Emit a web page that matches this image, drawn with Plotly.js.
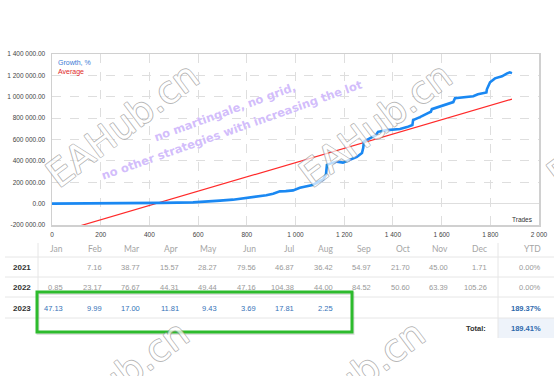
<!DOCTYPE html>
<html><head><meta charset="utf-8">
<script src="https://cdn.plot.ly/plotly-3.0.1.min.js"></script>
<style>html,body{margin:0;padding:0;background:#fff;}#chart{width:554px;height:376px;}</style>
</head><body><div id="chart"></div>
<script>
// ---- data ----
const trades = [0, 100, 200, 330, 340, 450, 579, 640, 690, 743, 800, 854, 880, 908, 936, 960, 990, 1018, 1047, 1070, 1088, 1113, 1125, 1129, 1140, 1154, 1170, 1195, 1210, 1224, 1252, 1273, 1278, 1281, 1298, 1318, 1330, 1339, 1376, 1400, 1429, 1458, 1470, 1480, 1483, 1503, 1511, 1544, 1556, 1560, 1580, 1606, 1634, 1648, 1655, 1680, 1704, 1730, 1749, 1765, 1778, 1784, 1786, 1799, 1819, 1848, 1869, 1880, 1889];
const growth = [0, 0, 1000, 2000, 6000, 7000, 12000, 18000, 28000, 37000, 53000, 74000, 78000, 93000, 115000, 117000, 124000, 149000, 161000, 175000, 195000, 223000, 270000, 363000, 372000, 381000, 393000, 384000, 398000, 409000, 437000, 474000, 520000, 580000, 605000, 626000, 640000, 672000, 688000, 693000, 698000, 716000, 726000, 735000, 781000, 800000, 809000, 847000, 860000, 884000, 900000, 921000, 940000, 950000, 986000, 990000, 995000, 1005000, 1023000, 1028000, 1033000, 1040000, 1070000, 1135000, 1172000, 1191000, 1219000, 1228000, 1221000];
const avgTrades = [0, 1889];
const avgValues = [-285000, 978000];

const xTickVals = [0, 200, 400, 600, 800, 1000, 1200, 1400, 1600, 1800, 2000];
const xTickText = ["0", "200", "400", "600", "800", "1 000", "1 200", "1 400", "1 600", "1 800", "2 000"];
const yTickVals = [-200000, 0, 200000, 400000, 600000, 800000, 1000000, 1200000, 1400000];
const yTickText = ["-200 000.00", "0.00", "200 000.00", "400 000.00", "600 000.00", "800 000.00", "1 000 000.00", "1 200 000.00", "1 400 000.00"];

const months = ["Jan","Feb","Mar","Apr","May","Jun","Jul","Aug","Sep","Oct","Nov","Dec"];
const years = ["2021","2022","2023"];
const row2021 = ["", "7.16", "38.77", "15.57", "28.27", "79.56", "46.87", "36.42", "54.97", "21.70", "45.00", "1.71"];
const row2022 = ["0.85", "23.17", "76.67", "44.31", "49.44", "47.16", "104.38", "44.00", "84.52", "50.60", "63.39", "105.26"];
const row2023 = ["47.13", "9.99", "17.00", "11.81", "9.43", "3.69", "17.81", "2.25", "", "", "", ""];
const ytd = ["0.00%", "0.00%", "189.37%"];
const totalLabel = "Total:";
const totalValue = "189.41%";

// ---- layout helpers (pixel -> paper) ----
const L = 52, R = 539, T = 54, B = 225;
const px = x => (x - L) / (R - L);
const py = y => (B - y) / (B - T);

const ann = [];
const shapes = [];
const F = "Liberation Sans, Arial, sans-serif";

// legend texts
ann.push({xref:'paper',yref:'paper',x:px(56),y:py(62),xanchor:'left',yanchor:'middle',showarrow:false,text:'Growth, %',font:{family:F,size:7,color:'#3a7bd5'}});
ann.push({xref:'paper',yref:'paper',x:px(56),y:py(72),xanchor:'left',yanchor:'middle',showarrow:false,text:'Average',font:{family:F,size:7,color:'#e02828'}});
ann.push({xref:'paper',yref:'paper',x:px(535),y:py(219),xanchor:'right',yanchor:'middle',showarrow:false,text:'Trades',font:{family:F,size:6.5,color:'#333'}});

// table
const colRight = k => 65 + 38.5 * k;
const yHead = 249, rowY = [267, 287, 308], yTot = 328;
const valRows = [row2021, row2022, row2023];
const TF = "Liberation Sans, Arial, sans-serif";

// total cell background
shapes.push({type:'rect',xref:'paper',yref:'paper',x0:px(498),x1:px(554),y0:py(318),y1:py(338),fillcolor:'#eef3fa',line:{width:0},layer:'below'});
// horizontal lines
[257, 277, 297, 318].forEach(y => shapes.push({type:'line',xref:'paper',yref:'paper',x0:px(5),x1:px(554),y0:py(y),y1:py(y),line:{color:'#e6e6e6',width:1}}));
// vertical lines
shapes.push({type:'line',xref:'paper',yref:'paper',x0:px(38),x1:px(38),y0:py(243),y1:py(318),line:{color:'#e6e6e6',width:1}});
shapes.push({type:'line',xref:'paper',yref:'paper',x0:px(498),x1:px(498),y0:py(243),y1:py(338),line:{color:'#e6e6e6',width:1}});

months.forEach((m, k) => ann.push({xref:'paper',yref:'paper',x:px(colRight(k)),y:py(yHead),xanchor:'right',yanchor:'middle',showarrow:false,text:m,font:{family:"Lato, sans-serif",size:8.5,color:'#a5a5a5'}}));
ann.push({xref:'paper',yref:'paper',x:px(543),y:py(yHead),xanchor:'right',yanchor:'middle',showarrow:false,text:'YTD',font:{family:"Lato, sans-serif",size:8.5,color:'#a5a5a5'}});

years.forEach((yr, r) => {
  ann.push({xref:'paper',yref:'paper',x:px(22),y:py(rowY[r]),xanchor:'center',yanchor:'middle',showarrow:false,text:'<b>'+yr+'</b>',font:{family:TF,size:8,color:'#333'}});
  valRows[r].forEach((v, k) => {
    if (!v) return;
    ann.push({xref:'paper',yref:'paper',x:px(colRight(k)),y:py(rowY[r]),xanchor:'right',yanchor:'middle',showarrow:false,text:v,font:{family:TF,size:7.5,color: r === 2 ? '#3573b8' : '#999'}});
  });
  const bold = r === 2;
  ann.push({xref:'paper',yref:'paper',x:px(543),y:py(rowY[r]),xanchor:'right',yanchor:'middle',showarrow:false,text: bold ? '<b>'+ytd[r]+'</b>' : ytd[r],font:{family:TF,size:7.5,color: bold ? '#2f6aad' : '#999'}});
});
ann.push({xref:'paper',yref:'paper',x:px(488),y:py(yTot),xanchor:'right',yanchor:'middle',showarrow:false,text:'<b>'+totalLabel+'</b>',font:{family:TF,size:7.5,color:'#333'}});
ann.push({xref:'paper',yref:'paper',x:px(543),y:py(yTot),xanchor:'right',yanchor:'middle',showarrow:false,text:'<b>'+totalValue+'</b>',font:{family:TF,size:7.5,color:'#2f6aad'}});

// green highlight box
shapes.push({type:'rect',xref:'paper',yref:'paper',x0:px(38),x1:px(353),y0:py(293.5),y1:py(333.5),line:{color:'rgba(0,0,0,0.12)',width:3}});
shapes.push({type:'rect',xref:'paper',yref:'paper',x0:px(37),x1:px(352),y0:py(292),y1:py(332),line:{color:'#2dbb2d',width:3}});

// watermarks
const oc = '#9a9a9a', o = '0.7px';
const wmOutline = `-${o} -${o} 0 ${oc}, ${o} -${o} 0 ${oc}, -${o} ${o} 0 ${oc}, ${o} ${o} 0 ${oc}`;
[[122,125],[375,125],[623,125],[112,383],[348,383]].forEach(c => {
  ann.push({xref:'paper',yref:'paper',x:px(c[0]),y:py(c[1]),xanchor:'center',yanchor:'middle',showarrow:false,textangle:-37,opacity:0.7,text:'EAHub.cn',font:{family:'DejaVu Sans, sans-serif',size:37,color:'#ffffff',shadow:wmOutline}});
});
const pOutline = '0 0 1px #fff, 0 0 1px #fff';
ann.push({xref:'paper',yref:'paper',x:px(225),y:py(112),xanchor:'center',yanchor:'middle',showarrow:false,textangle:-20,text:'no martingale, no grid,',font:{family:'DejaVu Sans, sans-serif',size:11.5,weight:'bold',color:'rgba(190,160,250,0.7)',shadow:pOutline}});
ann.push({xref:'paper',yref:'paper',x:px(232),y:py(130),xanchor:'center',yanchor:'middle',showarrow:false,textangle:-19.5,text:'no other strategies with increasing the lot',font:{family:'DejaVu Sans, sans-serif',size:11.5,weight:'bold',color:'rgba(190,160,250,0.7)',shadow:pOutline}});

const data = [
  {x: avgTrades, y: avgValues, type:'scatter', mode:'lines', line:{color:'#ff2a2a', width:1.2}, hoverinfo:'skip', cliponaxis:true},
  {x: trades, y: growth, type:'scatter', mode:'lines', line:{color:'#1a88f2', width:2.6}, hoverinfo:'skip'}
];

const layout = {
  width:554, height:376,
  margin:{l:L, r:554-R, t:T, b:376-B, pad:0},
  paper_bgcolor:'#fff', plot_bgcolor:'#fff',
  showlegend:false,
  xaxis:{range:[0,2000], tickvals:xTickVals, ticktext:xTickText, showgrid:true, gridcolor:'#dedede', griddash:'dash', gridwidth:1, zeroline:false, showline:true, mirror:true, linecolor:'#d0d0d0', linewidth:1.5, ticks:'', tickfont:{family:F,size:6.5,color:'#444'}, ticklabelstandoff:3, fixedrange:true},
  yaxis:{range:[-200000,1400000], tickvals:yTickVals, ticktext:yTickText, showgrid:true, gridcolor:'#dedede', griddash:'dash', gridwidth:1, zeroline:true, zerolinecolor:'#dedede', zerolinewidth:1, showline:true, mirror:true, linecolor:'#d0d0d0', linewidth:1.5, ticks:'', tickfont:{family:F,size:6.5,color:'#444'}, ticklabelstandoff:4, fixedrange:true},
  annotations: ann,
  shapes: shapes
};
Plotly.newPlot('chart', data, layout, {staticPlot:true, displayModeBar:false});
</script></body></html>
